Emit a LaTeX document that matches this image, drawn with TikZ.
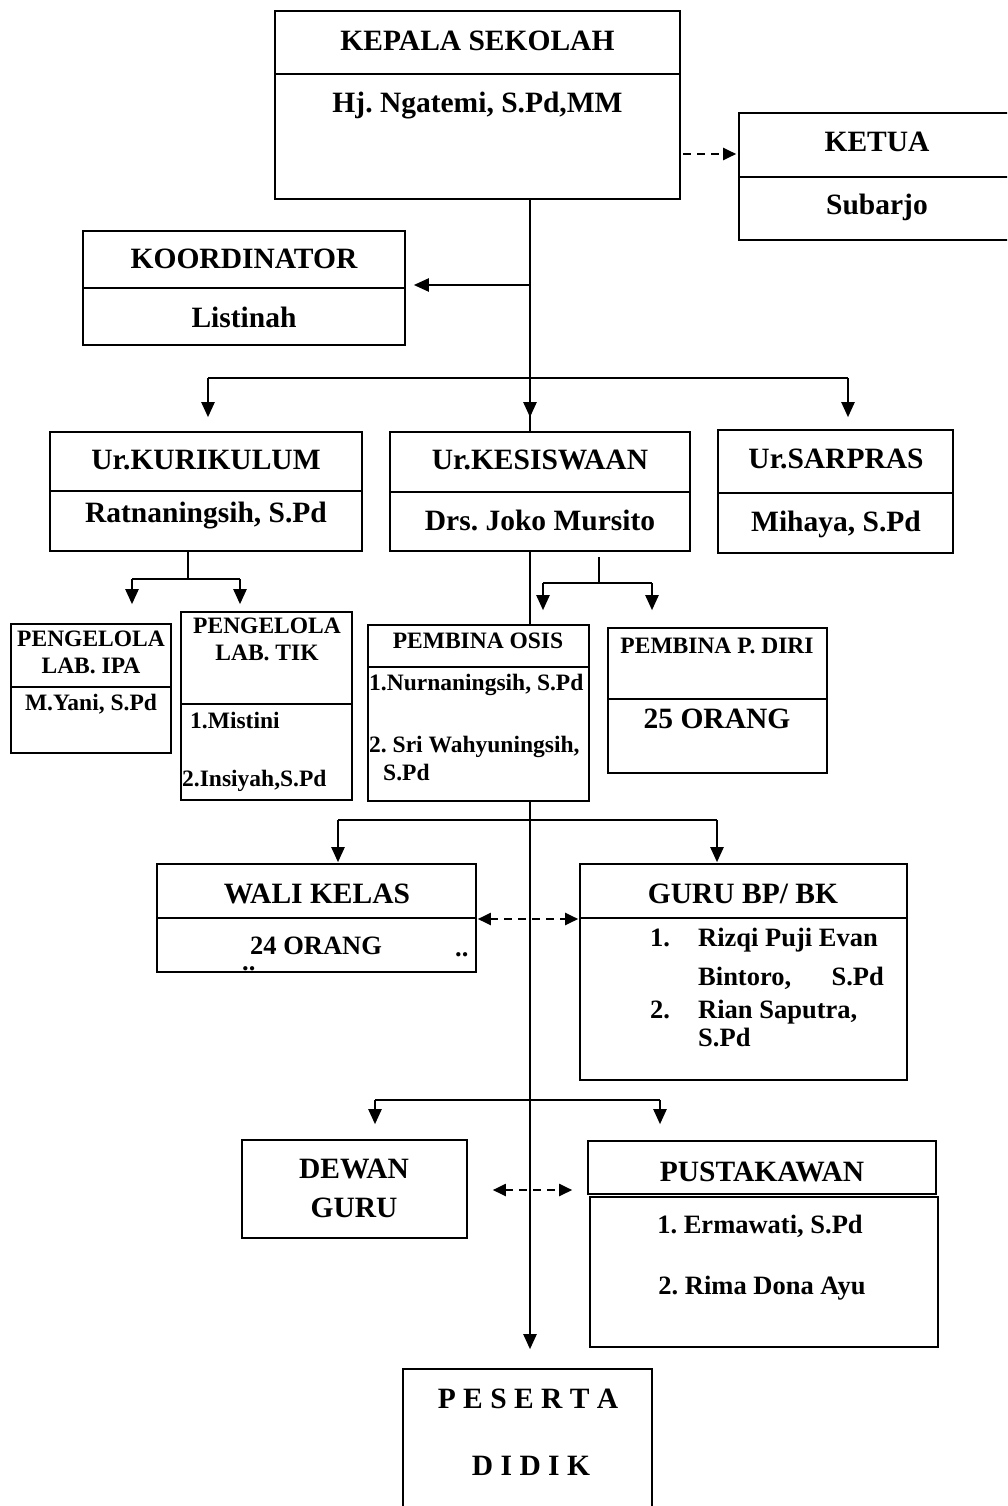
\documentclass[tikz,border=0pt]{standalone}
\usepackage{fontspec}
\setmainfont{Liberation Serif}
\usetikzlibrary{arrows.meta,fit}
\frenchspacing
\newcommand\orgbox[5]{\node[orgb, fit={(#2,#3) (#4,#5)}] (#1) {};}
\newcommand\orgboxd[6]{\node[orgb, fit={(#2,#3) (#4,#5)}] (#1) {};\draw[divl] (#2,#6) -- (#4,#6);}
\begin{document}
\begin{tikzpicture}[x=1pt,y=-1pt,
  orgb/.style={draw, line width=1.6pt, inner sep=0pt},
  divl/.style={line width=1.6pt},
  conn/.style={line width=2.2pt},
  arr/.style={line width=2.2pt, -{Triangle[length=15pt,width=13pt]}},
  darr/.style={line width=2pt, dash pattern=on 8pt off 6pt, -{Triangle[length=13pt,width=12pt]}},
  dbarr/.style={line width=2pt, dash pattern=on 8pt off 6pt, {Triangle[length=13pt,width=12pt]}-{Triangle[length=13pt,width=12pt]}},
  big/.style={font=\fontsize{29.5}{32}\selectfont\bfseries, inner sep=0pt, anchor=base},
  mid/.style={font=\fontsize{26.5}{30}\selectfont\bfseries, inner sep=0pt, anchor=base},
  midl/.style={mid, anchor=base west},
  small/.style={font=\fontsize{23.5}{26}\selectfont\bfseries, inner sep=0pt, anchor=base},
  smalll/.style={small, anchor=base west},
]
\useasboundingbox (0,0) rectangle (1007,1506);
\clip (0,0) rectangle (1007,1506);

% ---------- boxes ----------
\orgboxd{kepala}{275}{11}{680}{199}{74}
\orgboxd{ketua}{739}{113}{1020}{240}{177}
\orgboxd{koord}{83}{231}{405}{345}{288}
\orgboxd{kurik}{50}{432}{362}{551}{491}
\orgboxd{kesis}{390}{432}{690}{551}{492}
\orgboxd{sarpras}{718}{430}{953}{553}{493}
\orgboxd{labipa}{11}{624}{171}{753}{687}
\orgboxd{labtik}{181}{612}{352}{800}{704}
\orgboxd{osis}{368}{625}{589}{801}{667}
\orgboxd{pdiri}{608}{628}{827}{773}{699}
\orgboxd{wali}{157}{864}{476}{972}{918}
\orgboxd{gurubk}{580}{864}{907}{1080}{918}
\orgbox{dewan}{242}{1140}{467}{1238}
\orgbox{pustaka}{588}{1141}{936}{1194}
\orgbox{pustakab}{590}{1197}{938}{1347}
\orgbox{peserta}{403}{1369}{652}{1530}

% ---------- texts ----------
\node[big] (t1) at (477.5,51) {KEPALA SEKOLAH};
\node[big] (t2) at (477.5,113) {Hj. Ngatemi, S.Pd,MM};
\node[big] (t3) at (877,152) {KETUA};
\node[big] (t4) at (877,215) {Subarjo};
\node[big] (t5) at (244,269) {KOORDINATOR};
\node[big] (t6) at (244,327) {Listinah};
\node[big] (t7) at (206,469) {Ur.KURIKULUM};
\node[big] (t8) at (206,522) {Ratnaningsih, S.Pd};
\node[big] (t9) at (540,469) {Ur.KESISWAAN};
\node[big] (t10) at (540,530) {Drs. Joko Mursito};
\node[big] (t11) at (836,468) {Ur.SARPRAS};
\node[big] (t12) at (836,531) {Mihaya, S.Pd};
\node[small] (t13) at (91,646) {PENGELOLA};
\node[small] (t14) at (91,673) {LAB. IPA};
\node[small] (t15) at (91,710) {M.Yani, S.Pd};
\node[small] (t16) at (267,633) {PENGELOLA};
\node[small] (t17) at (267,660) {LAB. TIK};
\node[smalll] (t18) at (190,728) {1.Mistini};
\node[smalll] (t19) at (182,786) {2.Insiyah,S.Pd};
\node[small] (t20) at (478,648) {PEMBINA OSIS};
\node[smalll] (t21) at (369,690) {1.Nurnaningsih, S.Pd};
\node[smalll] (t22) at (369,752) {2. Sri Wahyuningsih,};
\node[smalll] (t23) at (383,780) {S.Pd};
\node[small] (t24) at (717,653) {PEMBINA P. DIRI};
\node[big] (t25) at (717,728) {25 ORANG};
\node[big] (t26) at (317,903) {WALI KELAS};
\node[midl] (t27) at (250,954) {24 ORANG};
\node[midl] (t28) at (242,970) {..};
\node[midl] (t29) at (455,956) {..};
\node[big] (t30) at (743,903) {GURU BP/ BK};
\node[midl] (t31) at (650,946) {1.};
\node[midl] (t32) at (698,946) {Rizqi Puji Evan};
\node[midl] (t33) at (698,985) {Bintoro,};
\node[mid, anchor=base east] (t34) at (884,985) {S.Pd};
\node[midl] (t35) at (650,1018) {2.};
\node[midl] (t36) at (698,1018) {Rian Saputra,};
\node[midl] (t37) at (698,1046) {S.Pd};
\node[big] (t38) at (354,1178) {DEWAN};
\node[big] (t39) at (354,1217) {GURU};
\node[big] (t40) at (762,1181) {PUSTAKAWAN};
\node[mid] (t41) at (760,1233) {1. Ermawati, S.Pd};
\node[mid] (t42) at (762,1294) {2. Rima Dona Ayu};
\node[big] (t43) at (528,1408) {P E S E R T A};
\node[big] (t44) at (531,1475) {D I D I K};

% ---------- connectors ----------
\coordinate (tr) at (530,0);
\draw[conn] (kepala.south -| tr) -- (kesis.north -| tr);
\coordinate (kA) at (530,285);
\draw[arr, shorten >=8pt] (kA) -- (kA -| koord.east);
\coordinate (bL) at (208,378);
\coordinate (bM) at (530,378);
\coordinate (bR) at (848,378);
\draw[conn] (bL) -- (bR);
\draw[arr, shorten >=14pt] (bL) -- (bL |- kurik.north);
\draw[arr, shorten >=14pt] (bM) -- (bM |- kesis.north);
\draw[arr, shorten >=12pt] (bR) -- (bR |- sarpras.north);

\coordinate (kd) at (188,579);
\coordinate (kL) at (132,579);
\coordinate (kR) at (240,579);
\draw[conn] (kd |- kurik.south) -- (kd);
\draw[conn] (kL) -- (kR);
\draw[arr, shorten >=19pt] (kL) -- (kL |- labipa.north);
\draw[arr, shorten >=7pt] (kR) -- (kR |- labtik.north);

\coordinate (sd1) at (599,557);
\coordinate (sd) at (599,583);
\coordinate (sL) at (543,583);
\coordinate (sR) at (652,583);
\draw[conn] (sd1) -- (sd);
\draw[conn] (sL) -- (sR);
\draw[arr, shorten >=14pt] (sL) -- (sL |- osis.north);
\draw[arr, shorten >=17pt] (sR) -- (sR |- pdiri.north);

\draw[conn] (kesis.south -| tr) -- (osis.north -| tr);
\draw[arr, shorten >=19pt] (osis.south -| tr) -- (peserta.north -| tr);

\coordinate (wL) at (338,820);
\coordinate (wR) at (717,820);
\draw[conn] (wL) -- (wR);
\draw[arr, shorten >=1pt] (wL) -- (wL |- wali.north);
\draw[arr, shorten >=1pt] (wR) -- (wR |- gurubk.north);

\coordinate (dL) at (375,1100);
\coordinate (dR) at (660,1100);
\draw[conn] (dL) -- (dR);
\draw[arr, shorten >=15pt] (dL) -- (dL |- dewan.north);
\draw[arr, shorten >=16pt] (dR) -- (dR |- pustaka.north);

\coordinate (kt) at (683,154);
\draw[darr, shorten >=2pt] (kt) -- (kt -| ketua.west);
\coordinate (wd) at (0,919);
\draw[dbarr, shorten <=1pt, shorten >=1pt] (wd -| wali.east) -- (wd -| gurubk.west);
\coordinate (pd) at (0,1190);
\draw[dbarr, shorten <=25pt, shorten >=15pt] (pd -| dewan.east) -- (pd -| pustaka.west);
\end{tikzpicture}
\end{document}
